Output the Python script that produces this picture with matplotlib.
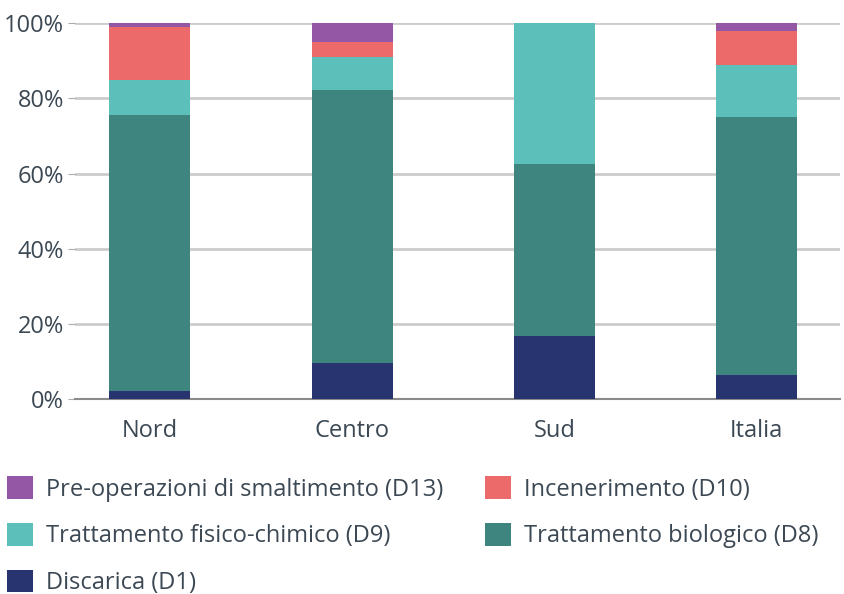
import matplotlib
matplotlib.use("Agg")
import matplotlib.pyplot as plt
from matplotlib.patches import Patch
from matplotlib.ticker import FuncFormatter

plt.rcParams['font.family'] = ['Open Sans', 'DejaVu Sans']

regions = ["Nord", "Centro", "Sud", "Italia"]
# shares (%) by disposal operation
d1 = [2.1, 9.5, 16.9, 6.5]
d8 = [73.5, 72.6, 45.6, 68.6]
d9 = [9.3, 8.9, 37.5, 13.8]
d10 = [14.0, 4.1, 0.0, 8.9]
d13 = [1.1, 4.9, 0.0, 2.2]

labels = {
    "d13": "Pre-operazioni di smaltimento (D13)",
    "d10": "Incenerimento (D10)",
    "d9": "Trattamento fisico-chimico (D9)",
    "d8": "Trattamento biologico (D8)",
    "d1": "Discarica (D1)",
}
colors = {
    "d13": "#9457a6",
    "d10": "#ec6a6a",
    "d9": "#5cbfb9",
    "d8": "#3e8580",
    "d1": "#283470",
}

text_col = "#3c4853"
fs = 17

fig = plt.figure(figsize=(8.45, 5.94), dpi=100)
ax = fig.add_axes([0.0888, 0.328, 0.905, 0.633])

x = list(range(len(regions)))
width = 0.4
bottom = [0.0] * len(regions)
for key, vals in [("d1", d1), ("d8", d8), ("d9", d9), ("d10", d10), ("d13", d13)]:
    ax.bar(x, vals, width, bottom=bottom, color=colors[key], zorder=3, linewidth=0)
    bottom = [b + v for b, v in zip(bottom, vals)]

ax.set_xlim(-0.37, 3.41)
ax.set_ylim(0, 100)
ax.set_yticks([0, 20, 40, 60, 80, 100])
ax.yaxis.set_major_formatter(FuncFormatter(lambda v, p: f"{int(v)}%"))
ax.set_xticks(x)
ax.set_xticklabels(regions)
ax.grid(axis="y", color="#cccccc", linewidth=2, zorder=0)
for s in ["top", "right", "left"]:
    ax.spines[s].set_visible(False)
ax.spines["bottom"].set_color("#8a8a8a")
ax.spines["bottom"].set_linewidth(1.5)
ax.tick_params(axis="y", length=5, color="#aaaaaa", labelsize=fs, labelcolor=text_col, pad=3)
ax.tick_params(axis="x", length=0, labelsize=fs, labelcolor=text_col, pad=14)

order = ["d13", "d9", "d1", "d10", "d8"]
handles = [Patch(facecolor=colors[k], edgecolor="none") for k in order]
fig.legend(handles, [labels[k] for k in order], ncol=2,
           loc="upper left", bbox_to_anchor=(0.008, 0.198), frameon=False,
           fontsize=fs, labelcolor=text_col, handlelength=1.1, handleheight=1.1,
           handletextpad=0.55, columnspacing=1.8, labelspacing=0.9, borderaxespad=0,
           borderpad=0)

fig.savefig("out.png", dpi=100)
